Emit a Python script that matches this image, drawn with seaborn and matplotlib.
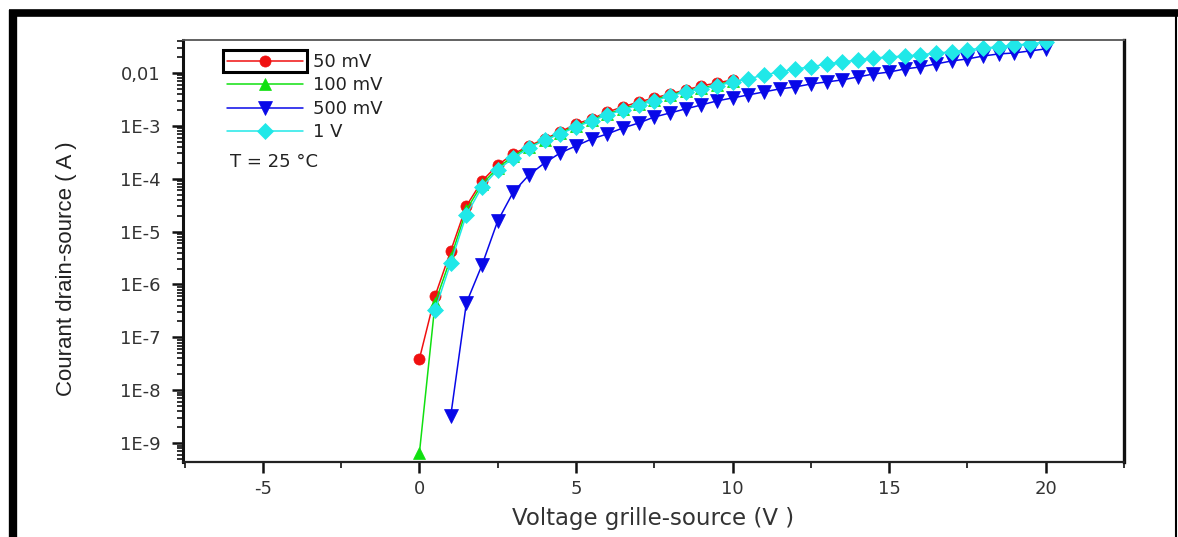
import numpy as np
import pandas as pd
import seaborn as sns
import matplotlib
matplotlib.use("Agg")
import matplotlib.pyplot as plt
import matplotlib.ticker as ticker
from matplotlib.lines import Line2D
from matplotlib.patches import Rectangle

# Vgs (V) et courants Ids (A)
vgs_50mv = [0.0, 0.5, 1.0, 1.5, 2.0, 2.5, 3.0, 3.5, 4.0, 4.5, 5.0,
            5.5, 6.0, 6.5, 7.0, 7.5, 8.0, 8.5, 9.0, 9.5, 10.0]
ids_50mv = [3.93e-8, 6.08e-7, 4.32e-6, 3.06e-5, 9.08e-5, 1.82e-4, 2.94e-4, 4.17e-4, 5.65e-4, 7.67e-4, 1.09e-3,
            1.35e-3, 1.83e-3, 2.28e-3, 2.83e-3, 3.37e-3, 4.01e-3, 4.77e-3, 5.68e-3, 6.47e-3, 7.38e-3]

vgs_100mv = [0.0, 0.5, 1.0, 1.5, 2.0, 2.5, 3.0, 3.5, 4.0, 4.5, 5.0,
             5.5, 6.0, 6.5, 7.0, 7.5, 8.0, 8.5, 9.0, 9.5, 10.0]
ids_100mv = [6.56e-10, 4.49e-7, 3.18e-6, 2.57e-5, 7.98e-5, 1.60e-4, 2.70e-4, 3.99e-4, 5.41e-4, 7.34e-4, 9.96e-4,
             1.29e-3, 1.68e-3, 2.09e-3, 2.59e-3, 3.09e-3, 3.84e-3, 4.57e-3, 5.20e-3, 5.93e-3, 7.06e-3]

vgs_500mv = [1.0, 1.5, 2.0, 2.5, 3.0, 3.5, 4.0, 4.5, 5.0, 5.5, 6.0, 6.5, 7.0, 7.5, 8.0, 8.5, 9.0, 9.5, 10.0,
             10.5, 11.0, 11.5, 12.0, 12.5, 13.0, 13.5, 14.0, 14.5, 15.0, 15.5, 16.0, 16.5, 17.0, 17.5, 18.0,
             18.5, 19.0, 19.5, 20.0]
ids_500mv = [3.28e-9, 4.49e-7, 2.35e-6, 1.59e-5, 5.62e-5, 1.18e-4, 1.99e-4, 3.08e-4, 4.17e-4, 5.65e-4, 7.03e-4,
             9.12e-4, 1.13e-3, 1.47e-3, 1.75e-3, 2.09e-3, 2.48e-3, 2.96e-3, 3.37e-3, 3.84e-3, 4.38e-3, 4.99e-3,
             5.43e-3, 6.19e-3, 6.76e-3, 7.38e-3, 8.40e-3, 9.57e-3, 1.04e-2, 1.19e-2, 1.30e-2, 1.48e-2, 1.69e-2,
             1.84e-2, 2.09e-2, 2.29e-2, 2.39e-2, 2.61e-2, 2.85e-2]

vgs_1v = [0.5, 1.0, 1.5, 2.0, 2.5, 3.0, 3.5, 4.0, 4.5, 5.0, 5.5, 6.0, 6.5, 7.0, 7.5, 8.0, 8.5, 9.0, 9.5, 10.0,
          10.5, 11.0, 11.5, 12.0, 12.5, 13.0, 13.5, 14.0, 14.5, 15.0, 15.5, 16.0, 16.5, 17.0, 17.5, 18.0,
          18.5, 19.0, 19.5, 20.0]
ids_1v = [3.31e-7, 2.56e-6, 2.07e-5, 7.00e-5, 1.47e-4, 2.47e-4, 3.82e-4, 5.41e-4, 7.03e-4, 9.53e-4, 1.24e-3,
          1.61e-3, 2.00e-3, 2.48e-3, 2.96e-3, 3.67e-3, 4.38e-3, 4.99e-3, 5.68e-3, 6.76e-3, 7.70e-3, 9.17e-3,
          1.04e-2, 1.19e-2, 1.30e-2, 1.48e-2, 1.61e-2, 1.76e-2, 1.92e-2, 2.00e-2, 2.09e-2, 2.19e-2, 2.39e-2,
          2.49e-2, 2.72e-2, 2.97e-2, 3.10e-2, 3.38e-2, 3.53e-2, 3.86e-2]

y_ticks = [1e-9, 1e-8, 1e-7, 1e-6, 1e-5, 1e-4, 1e-3, 1e-2]
y_ticklabels = ["1E-9", "1E-8", "1E-7", "1E-6", "1E-5", "1E-4", "1E-3", "0,01"]

sns.set_theme(style="white")
plt.rcParams["font.family"] = ["DejaVu Sans"]
plt.rcParams["axes.unicode_minus"] = False

fig = plt.figure(figsize=(11.78, 5.37), dpi=100)
ax = fig.add_axes([183/1178, 1-462/537, 941/1178, 422/537])

series = [
    (vgs_50mv, ids_50mv, "50 mV", "#f01010", "o", 8),
    (vgs_100mv, ids_100mv, "100 mV", "#10e010", "^", 9),
    (vgs_500mv, ids_500mv, "500 mV", "#0808e8", "v", 10.5),
    (vgs_1v, ids_1v, "1 V", "#20e8e8", "D", 8),
]
for x, y, lab, col, mk, ms in series:
    sns.lineplot(x=x, y=y, ax=ax, color=col, marker=mk, markersize=ms,
                 markeredgecolor=col, markeredgewidth=0.5, linewidth=1.1, label=lab)

ax.set_yscale("log")
ax.set_xlim(-7.55, 22.5)
ax.set_ylim(4.4e-10, 4.2e-2)
ax.set_yticks(y_ticks)
ax.set_yticklabels(y_ticklabels)
ax.yaxis.set_minor_locator(ticker.LogLocator(base=10, subs=np.arange(2, 10), numticks=100))
ax.yaxis.set_minor_formatter(ticker.NullFormatter())
ax.xaxis.set_major_locator(ticker.MultipleLocator(5))
ax.xaxis.set_minor_locator(ticker.MultipleLocator(2.5))

ax.tick_params(axis="both", which="major", direction="out", length=8, width=1.8,
               color="#111111", labelsize=13, labelcolor="#333333")
ax.tick_params(axis="y", which="major", pad=8)
ax.tick_params(axis="x", which="major", pad=5)
ax.tick_params(axis="both", which="minor", direction="out", length=4, width=1.2, color="#111111")
ax.tick_params(left=True, bottom=True)
ax.tick_params(axis="both", which="minor", left=True, bottom=True)

for side, lw, c in [("left", 2.2, "#111111"), ("right", 2.4, "#111111"),
                    ("top", 1.3, "#555555"), ("bottom", 1.6, "#222222")]:
    ax.spines[side].set_linewidth(lw)
    ax.spines[side].set_color(c)

ax.set_xlabel("Voltage grille-source (V )", fontsize=16.5, color="#333333")
ax.xaxis.set_label_coords(0.5, -(507-462)/422)
ax.set_ylabel("Courant drain-source ( A )", fontsize=16, color="#222222",
              family=["Liberation Sans Narrow", "Liberation Sans"])
ax.yaxis.set_label_coords((77-183)/941, 1-(269-40)/422)

leg = ax.legend(loc="upper left", bbox_to_anchor=((227-183)/941, 1-(53-40)/422),
                frameon=False, borderpad=0, borderaxespad=0, fontsize=13,
                handlelength=4.2, handletextpad=0.55, labelspacing=0.3)
for t in leg.get_texts():
    t.set_color("#222222")

ax.text((230-183)/941, 1-(162-40)/422, "T = 25 °C", transform=ax.transAxes,
        fontsize=13, color="#222222", va="center", ha="left")

# cadre autour du premier symbole de la légende
fig.add_artist(Rectangle((223/1178, 1-72/537), 84/1178, 22/537, transform=fig.transFigure,
                         fill=False, edgecolor="black", linewidth=2.2))

# bordure noire de l'image
fig.add_artist(Line2D([9/1178, 1.0], [1-13/537, 1-13/537], transform=fig.transFigure,
                      color="black", linewidth=5.5, solid_capstyle="butt"))
fig.add_artist(Line2D([13/1178, 13/1178], [0, 1-10/537], transform=fig.transFigure,
                      color="black", linewidth=6, solid_capstyle="butt"))
fig.add_artist(Line2D([1176/1178, 1176/1178], [0, 1-10/537], transform=fig.transFigure,
                      color="black", linewidth=1.5, solid_capstyle="butt"))

fig.savefig("out.png", dpi=100)
